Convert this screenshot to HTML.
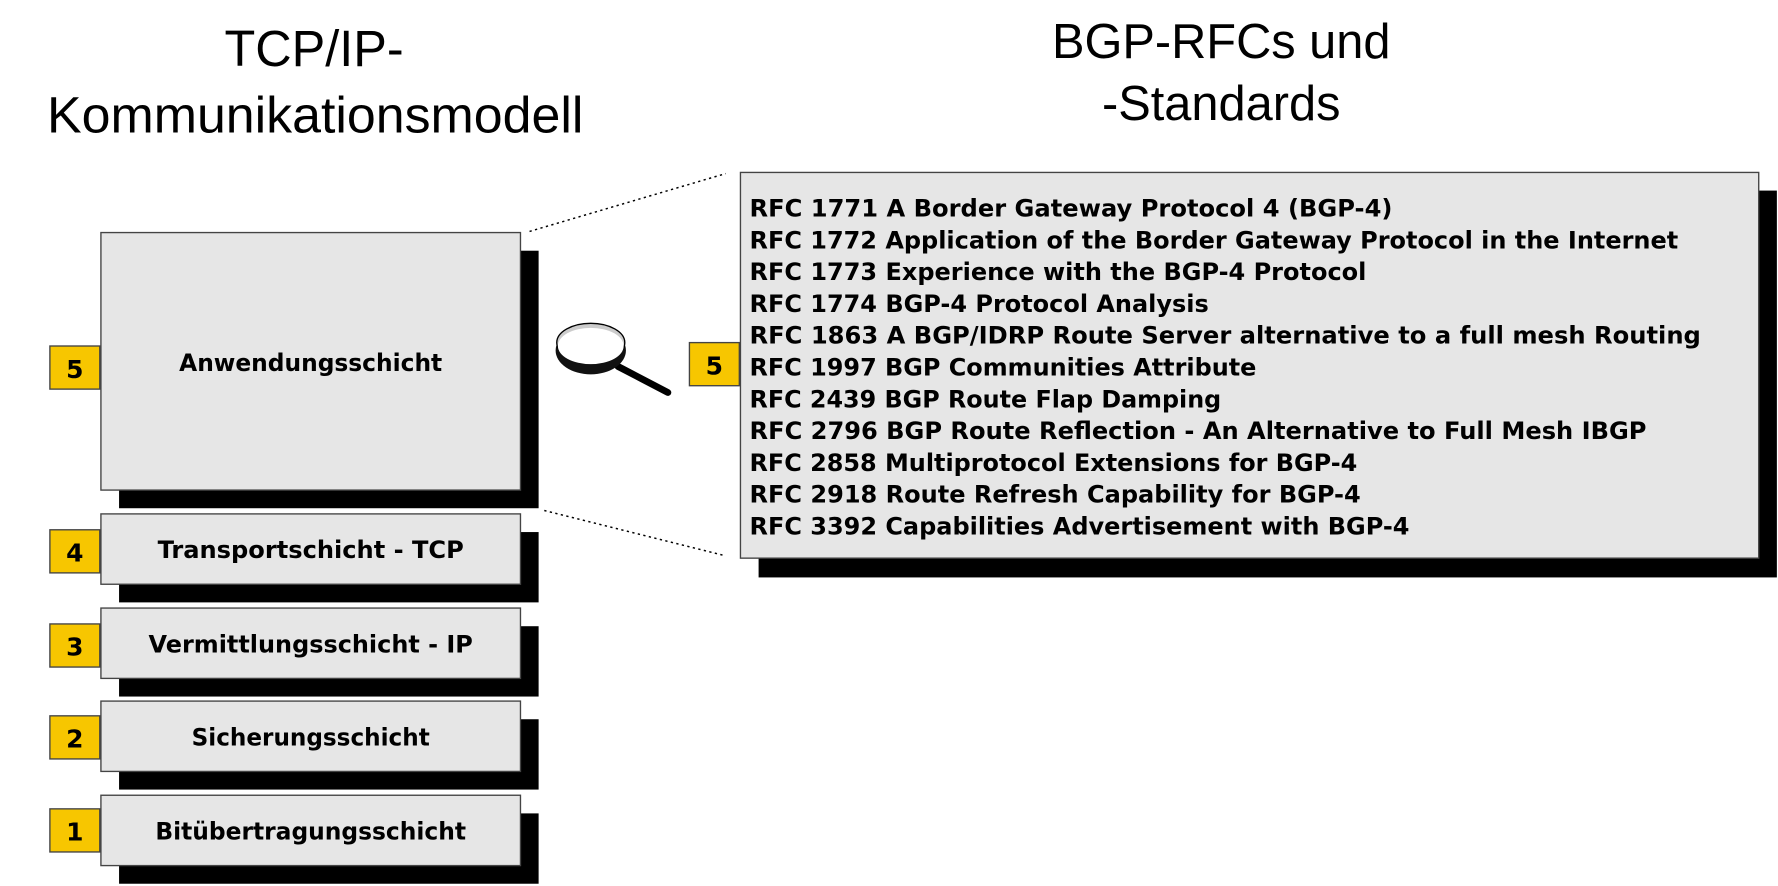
<!DOCTYPE html>
<html><head><meta charset="utf-8"><style>
html,body{margin:0;padding:0;background:#fff;}
svg{display:block;}
.b{font-weight:bold;fill:#000;font-family:"DejaVu Sans","Liberation Sans",sans-serif;}
.t{font-family:"Liberation Sans",sans-serif;fill:#000;}
</style></head><body>
<svg width="1778" height="886" viewBox="0 0 1568 781" preserveAspectRatio="none" xmlns="http://www.w3.org/2000/svg">
<rect width="1568" height="781" fill="#fff"/>
<!-- titles -->
<text class="t" x="277" y="58" font-size="45" text-anchor="middle" textLength="158" lengthAdjust="spacingAndGlyphs">TCP/IP-</text>
<text class="t" x="278" y="117" font-size="45" text-anchor="middle" textLength="473" lengthAdjust="spacingAndGlyphs">Kommunikationsmodell</text>
<text class="t" x="1077" y="51" font-size="43" text-anchor="middle">BGP-RFCs und</text>
<text class="t" x="1077" y="106" font-size="43" text-anchor="middle">-Standards</text>
<!-- dotted lines -->
<line x1="467" y1="204" x2="640" y2="153" stroke="#000" stroke-width="1.3" stroke-dasharray="2,3"/>
<line x1="480" y1="450" x2="640" y2="490" stroke="#000" stroke-width="1.3" stroke-dasharray="2,3"/>
<!-- layer boxes -->
<g stroke="#444" stroke-width="1.2">
<rect x="105" y="221" width="370" height="227" fill="#000" stroke="none"/>
<rect x="89" y="205" width="370" height="227" fill="#e6e6e6"/>
<rect x="105" y="469" width="370" height="62" fill="#000" stroke="none"/>
<rect x="89" y="453" width="370" height="62" fill="#e6e6e6"/>
<rect x="105" y="552" width="370" height="62" fill="#000" stroke="none"/>
<rect x="89" y="536" width="370" height="62" fill="#e6e6e6"/>
<rect x="105" y="634" width="370" height="62" fill="#000" stroke="none"/>
<rect x="89" y="618" width="370" height="62" fill="#e6e6e6"/>
<rect x="105" y="717" width="370" height="62" fill="#000" stroke="none"/>
<rect x="89" y="701" width="370" height="62" fill="#e6e6e6"/>
<!-- badges -->
<rect x="44" y="305" width="44" height="38" fill="#f7c600"/>
<rect x="44" y="467" width="44" height="38" fill="#f7c600"/>
<rect x="44" y="550" width="44" height="38" fill="#f7c600"/>
<rect x="44" y="631" width="44" height="38" fill="#f7c600"/>
<rect x="44" y="713" width="44" height="38" fill="#f7c600"/>
<rect x="608" y="302" width="44" height="38" fill="#f7c600"/>
<!-- rfc box -->
<rect x="669" y="168" width="898" height="341" fill="#000" stroke="none"/>
<rect x="653" y="152" width="898" height="340" fill="#e6e6e6"/>
</g>
<g class="b" font-size="22" text-anchor="middle">
<text x="66" y="333">5</text><text x="66" y="495">4</text><text x="66" y="578">3</text><text x="66" y="659">2</text><text x="66" y="741">1</text><text x="630" y="330">5</text>
</g>
<g class="b" font-size="21">
<text x="158" y="327" textLength="232" lengthAdjust="spacingAndGlyphs">Anwendungsschicht</text>
<text x="139" y="492" textLength="270" lengthAdjust="spacingAndGlyphs">Transportschicht - TCP</text>
<text x="131" y="575" textLength="286" lengthAdjust="spacingAndGlyphs">Vermittlungsschicht - IP</text>
<text x="169" y="657" textLength="210" lengthAdjust="spacingAndGlyphs">Sicherungsschicht</text>
<text x="137" y="740" textLength="274" lengthAdjust="spacingAndGlyphs">Bitübertragungsschicht</text>
</g>
<g class="b" font-size="21">
<text x="661" y="191" textLength="567" lengthAdjust="spacingAndGlyphs">RFC 1771 A Border Gateway Protocol 4 (BGP-4)</text>
<text x="661" y="219" textLength="819" lengthAdjust="spacingAndGlyphs">RFC 1772 Application of the Border Gateway Protocol in the Internet</text>
<text x="661" y="247" textLength="544" lengthAdjust="spacingAndGlyphs">RFC 1773 Experience with the BGP-4 Protocol</text>
<text x="661" y="275" textLength="405" lengthAdjust="spacingAndGlyphs">RFC 1774 BGP-4 Protocol Analysis</text>
<text x="661" y="303" textLength="839" lengthAdjust="spacingAndGlyphs">RFC 1863 A BGP/IDRP Route Server alternative to a full mesh Routing</text>
<text x="661" y="331" textLength="447" lengthAdjust="spacingAndGlyphs">RFC 1997 BGP Communities Attribute</text>
<text x="661" y="359" textLength="416" lengthAdjust="spacingAndGlyphs">RFC 2439 BGP Route Flap Damping</text>
<text x="661" y="387" textLength="791" lengthAdjust="spacingAndGlyphs">RFC 2796 BGP Route Reflection - An Alternative to Full Mesh IBGP</text>
<text x="661" y="415" textLength="536" lengthAdjust="spacingAndGlyphs">RFC 2858 Multiprotocol Extensions for BGP-4</text>
<text x="661" y="443" textLength="539" lengthAdjust="spacingAndGlyphs">RFC 2918 Route Refresh Capability for BGP-4</text>
<text x="661" y="471" textLength="582" lengthAdjust="spacingAndGlyphs">RFC 3392 Capabilities Advertisement with BGP-4</text>
</g>
<!-- magnifier -->
<line x1="545" y1="323" x2="589" y2="346" stroke="#000" stroke-width="6" stroke-linecap="round"/>
<ellipse cx="521" cy="309" rx="31" ry="21" fill="#111"/>
<ellipse cx="521" cy="302" rx="30" ry="17" fill="#ccc" stroke="#000" stroke-width="1.2"/>
<ellipse cx="521" cy="305" rx="29" ry="16" fill="#fff"/>
</svg>
</body></html>
